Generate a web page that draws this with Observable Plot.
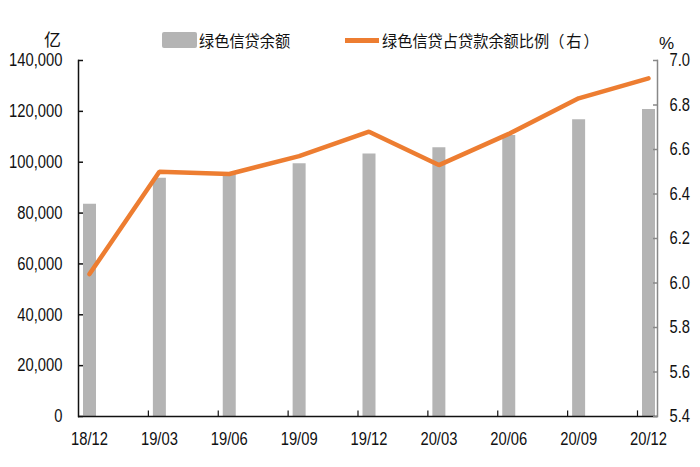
<!DOCTYPE html>
<html>
<head>
<meta charset="utf-8">
<script src="https://cdn.jsdelivr.net/npm/d3@7"></script>
<script src="https://cdn.jsdelivr.net/npm/@observablehq/plot@0.6"></script>
<style>
  body { margin: 0; background: #fff; }
  #wrap { width: 700px; }
  #head { position: relative; width: 700px; height: 40px; font-family: "Noto Sans CJK SC", sans-serif; color: #111; z-index: 2; }
  #head .t { position: absolute; font-size: 16px; line-height: 20px; white-space: nowrap; }
  #head .c { transform: scaleX(0.95); transform-origin: 0 50%; }
  #head .sw { position: absolute; }
  svg { display: block; }
</style>
</head>
<body>
<div id="wrap">
  <div id="head">
    <div class="t" style="left:44px; top:29px; font-size:17px;">亿</div>
    <div class="sw" style="left:162px; top:32px; width:35px; height:16px; background:#b4b4b4; border-radius:2px;"></div>
    <div class="t c" style="left:199px; top:30px;">绿色信贷余额</div>
    <div class="sw" style="left:345px; top:38px; width:34px; height:5px; background:#ED7D31;"></div>
    <div class="t c" style="left:382px; top:30px;">绿色信贷占贷款余额比例<span style="letter-spacing:2px;">（右）</span></div>
    <div class="t" style="left:659px; top:34px; font-family:'Liberation Sans',sans-serif; font-size:17px;">%</div>
  </div>
  <div id="chart"></div>
</div>
<script>
const categories = ["18/12", "19/03", "19/06", "19/09", "19/12", "20/03", "20/06", "20/09", "20/12"];
const greenLoans = [83500, 93700, 95500, 99400, 103200, 105700, 110500, 116700, 120700];
const greenShare = [6.04, 6.50, 6.49, 6.57, 6.68, 6.53, 6.67, 6.83, 6.92];
const leftTicks = [0, 20000, 40000, 60000, 80000, 100000, 120000, 140000];
const rightTicks = [5.4, 5.6, 5.8, 6.0, 6.2, 6.4, 6.6, 6.8, 7.0];

const leftMax = 140000, rMin = 5.4, rMax = 7.0;
const toLeft = v => (v - rMin) / (rMax - rMin) * leftMax;
const toRight = y => rMin + y / leftMax * (rMax - rMin);

const data = categories.map((c, i) => ({cat: c, loans: greenLoans[i], share: greenShare[i]}));

const font = "'Liberation Sans',Arial,sans-serif";

const chart = Plot.plot({
  width: 700,
  height: 427,
  marginLeft: 78,
  marginRight: 43,
  marginTop: 20,
  marginBottom: 51,
  style: {fontFamily: font, fontSize: "18px", color: "#111", background: "transparent"},
  x: {type: "point", domain: categories, padding: 0, round: false, insetLeft: 11, insetRight: 9, label: null},
  y: {domain: [0, leftMax], label: null},
  marks: [
    Plot.ruleX(data, {x: "cat", y1: 0, y2: "loans", stroke: "#b4b4b4", strokeWidth: 13}),
    Plot.line(data, {x: "cat", y: d => toLeft(d.share), stroke: "#ED7D31", strokeWidth: 4.5, strokeLinejoin: "miter"}),
    Plot.frame({anchor: "left", stroke: "#111", strokeWidth: 1.5}),
    Plot.frame({anchor: "right", stroke: "#888", strokeWidth: 1.5}),
    Plot.ruleY([0], {stroke: "#111", strokeWidth: 1.5}),
    Plot.ruleX(categories.slice(1), {x: d => d, dx: -11, y1: 0, y2: 2200, stroke: "#111", strokeWidth: 1.2}),
    Plot.axisY(leftTicks, {anchor: "left", tickSize: -5, tickPadding: 21, stroke: "#111", strokeWidth: 1.5, tickFormat: d => d3.format(",")(d), fill: "#111", label: null}),
    Plot.axisY(rightTicks.map(toLeft), {anchor: "right", tickSize: -5, tickPadding: 17, stroke: "#888", strokeWidth: 1.5, tickFormat: d => toRight(d).toFixed(1), fill: "#111", label: null}),
    Plot.axisX({anchor: "bottom", tickSize: 0, tickPadding: 16, fill: "#111", label: null})
  ]
});
document.getElementById("chart").appendChild(chart);

// condense tick label glyphs to mimic a narrow typeface
chart.querySelectorAll("g[aria-label$='tick label'] text").forEach(t => {
  const w = t.getComputedTextLength();
  t.setAttribute("textLength", (w * 0.82).toFixed(1));
  t.setAttribute("lengthAdjust", "spacingAndGlyphs");
});
</script>
</body>
</html>
